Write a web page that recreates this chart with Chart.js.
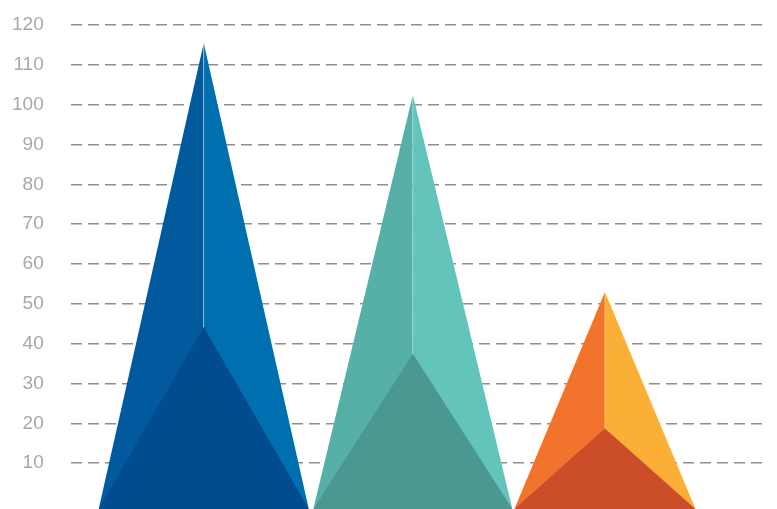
<!DOCTYPE html>
<html>
<head>
<meta charset="utf-8">
<script src="https://cdn.jsdelivr.net/npm/chart.js@4/dist/chart.umd.min.js"></script>
<style>
  html, body { margin: 0; padding: 0; background: #fff; }
  #wrap { width: 777px; height: 509px; position: relative; }
</style>
</head>
<body>
<div id="wrap"><canvas id="grafico"></canvas></div>
<script>
// -------------------------------
// DADOS
// -------------------------------
const series = ["Blue", "Teal", "Orange"];
const peakValues = [115.5, 102.4, 53];
const innerValues = [44.2, 37.5, 18.7];
const centers = [133, 342, 534];      // x position of each pyramid on the linear x axis
const baseWidths = [210, 199, 181];   // base width on the same axis
const yTicks = [10, 20, 30, 40, 50, 60, 70, 80, 90, 100, 110, 120];
const yFloor = -1.5;

// cores: lado esquerdo, lado direito, frente
const leftColors = ["#005a9d", "#56b0a8", "#f2742c"];
const rightColors = ["#006fb0", "#63c4bb", "#fbaf36"];
const frontColors = ["#004c8f", "#4a9891", "#cc4e28"];

// -------------------------------
// DATASETS
// -------------------------------
const datasets = [];

series.forEach((nome, i) => {
  const xl = centers[i] - baseWidths[i] / 2;
  const xr = centers[i] + baseWidths[i] / 2;
  const xc = centers[i];

  // frente (por cima)
  datasets.push({
    label: nome + " front",
    data: [{ x: xl, y: yFloor }, { x: xc, y: innerValues[i] }, { x: xr, y: yFloor }],
    backgroundColor: frontColors[i],
    fill: "start",
    order: 0
  });
  // aresta central
  datasets.push({
    label: nome + " edge",
    data: [{ x: xc, y: peakValues[i] }, { x: xc, y: innerValues[i] }],
    borderColor: "rgba(255,255,255,0.1)",
    borderWidth: 1,
    fill: false,
    order: 1
  });
  // lado esquerdo
  datasets.push({
    label: nome + " left",
    data: [{ x: xl, y: yFloor }, { x: xc, y: peakValues[i] }],
    backgroundColor: leftColors[i],
    fill: "start",
    order: 2
  });
  // lado direito
  datasets.push({
    label: nome + " right",
    data: [{ x: xc, y: peakValues[i] }, { x: xr, y: yFloor }],
    backgroundColor: rightColors[i],
    fill: "start",
    order: 2
  });
});

// -------------------------------
// GRAFICO
// -------------------------------
new Chart(document.getElementById("grafico"), {
  type: "line",
  data: { datasets },
  options: {
    responsive: true,
    maintainAspectRatio: false,
    animation: false,
    elements: {
      line: { borderWidth: 0, tension: 0 },
      point: { radius: 0, hoverRadius: 0 }
    },
    layout: { padding: { left: 12, top: 25, right: 9, bottom: 0 } },
    plugins: { legend: { display: false }, tooltip: { enabled: false } },
    scales: {
      x: {
        type: "linear",
        display: false,
        min: 0,
        max: 697
      },
      y: {
        min: yFloor,
        max: 120,
        afterBuildTicks: (axis) => {
          axis.ticks = yTicks.map(v => ({ value: v }));
        },
        afterFit: (axis) => {
          axis.paddingTop = 0;
          axis.paddingBottom = 0;
        },
        grid: { color: "#8e8e8e", lineWidth: 1.5, drawTicks: true, tickLength: 27, tickColor: "rgba(0,0,0,0)" },
        border: { display: false, dash: [11, 6] },
        ticks: {
          padding: 0,
          color: "#a8a8a8",
          font: { family: "'Liberation Sans', Arial, sans-serif", size: 19 }
        }
      }
    }
  }
});
</script>
</body>
</html>
